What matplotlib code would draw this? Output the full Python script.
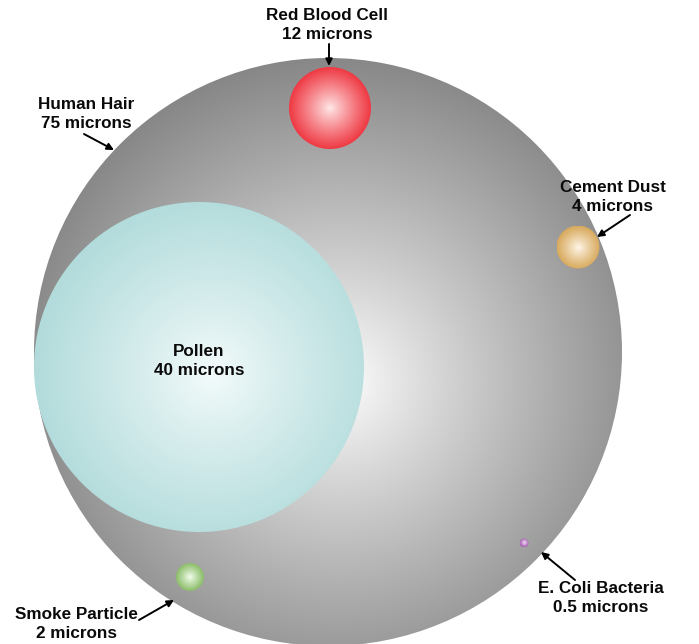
import numpy as np
import matplotlib.pyplot as plt
from matplotlib.patches import Circle
from matplotlib.colors import to_rgb

plt.rcParams['font.family'] = ['Liberation Sans', 'DejaVu Sans']

# particles: name, size in microns, bubble centre and bubble radius (chart units)
names = ['Human Hair', 'Pollen', 'Red Blood Cell', 'Cement Dust', 'Smoke Particle', 'E. Coli Bacteria']
microns = ['75', '40', '12', '4', '2', '0.5']
bx = [328, 199, 330, 578, 190, 524]
by = [352, 367, 108, 247, 577, 543]
br = [294, 165, 41, 21.5, 14, 4.5]
edge_cols = ['#878787', '#b2dbdb', '#ef3a44', '#d8aa5e', '#8cbd6a', '#a764b3']
mid_cols = ['#ffffff', '#f4fbfb', '#ffeaea', '#fff8ec', '#f4fff0', '#f6e0f8']
# where the shine sits, relative to bubble radius
shine_dx = [0.04, 0.08, 0.0, 0.0, 0.0, 0.0]
shine_dy = [0.10, 0.04, 0.0, 0.0, 0.0, 0.0]

fig = plt.figure(figsize=(6.99, 6.44), dpi=100)
ax = fig.add_axes([0, 0, 1, 1])
ax.set_xlim(0, 699)
ax.set_ylim(644, 0)
ax.set_aspect('equal')
ax.axis('off')

for i in range(len(names)):
    x, y, r = bx[i], by[i], br[i]
    n = 400 if r > 50 else 120
    gx = np.linspace(x - r, x + r, n)
    gy = np.linspace(y - r, y + r, n)
    X, Y = np.meshgrid(gx, gy)
    cx = x + shine_dx[i] * r
    cy = y + shine_dy[i] * r
    d = np.sqrt((X - cx)**2 + (Y - cy)**2) / (r * (1 + np.hypot(shine_dx[i], shine_dy[i])))
    t = np.clip(d, 0, 1)[..., None] ** 0.9
    c0 = np.array(to_rgb(mid_cols[i]))
    c1 = np.array(to_rgb(edge_cols[i]))
    img = c0 * (1 - t) + c1 * t
    im = ax.imshow(img, extent=(x - r, x + r, y + r, y - r), origin='upper',
                   interpolation='bilinear', zorder=i + 1)
    circ = Circle((x, y), r, transform=ax.transData, facecolor='none', edgecolor='none')
    ax.add_patch(circ)
    im.set_clip_path(circ)

# labels and arrows
lab_x = [86, 199, 327, 613, 76, 601]
lab_y = [114, 361, 25, 197, 624, 598]
arr_from = [(84, 134), None, (329, 44), (630, 215), (139, 620), (575, 580)]
arr_to = [(114, 150), None, (329, 66), (597, 237), (174, 600), (541, 552)]

for i in range(len(names)):
    ax.text(lab_x[i], lab_y[i], names[i] + '\n' + microns[i] + ' microns',
            ha='center', va='center', fontsize=12.3, fontweight='bold',
            linespacing=1.3, color='#0a0a0a', zorder=20)
    if arr_from[i] is not None:
        ax.annotate('', xy=arr_to[i], xytext=arr_from[i],
                    arrowprops=dict(arrowstyle='-|>', color='black', lw=1.4,
                                    mutation_scale=10, shrinkA=0, shrinkB=0),
                    zorder=20)

fig.savefig('out.png', dpi=100)
